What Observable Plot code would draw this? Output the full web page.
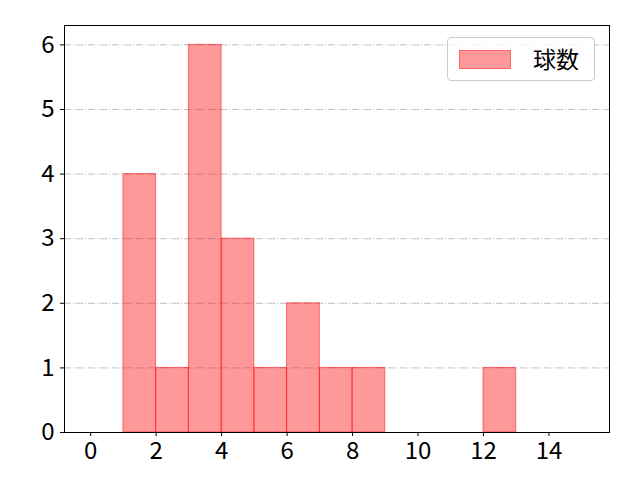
<!DOCTYPE html>
<html><head><meta charset="utf-8">
<script src="https://cdn.jsdelivr.net/npm/d3@7"></script>
<script src="https://cdn.jsdelivr.net/npm/@observablehq/plot@0.6"></script>
<style>
body{margin:0;background:#fff;}
#c{position:relative;width:640px;height:480px;}
#c svg text{font-family:"Noto Sans CJK JP",sans-serif !important;font-size:24px !important;}
.legend{position:absolute;left:447px;top:37px;width:148px;height:44px;border:1px solid #ccc;border-radius:4px;background:rgba(255,255,255,0.8);font-family:"Noto Sans CJK JP",sans-serif;font-size:23px;box-sizing:border-box;}
.legend .sw{position:absolute;left:11px;top:12px;width:52px;height:19px;background:#ff9999;border:1px solid #ff6666;box-sizing:border-box;}
.legend .lb{position:absolute;left:85px;top:5px;line-height:30px;}
</style></head>
<body><div id="c"></div>
<script>
const binStart = [1, 2, 3, 4, 5, 6, 7, 8, 12];
const binEnd   = [2, 3, 4, 5, 6, 7, 8, 9, 13];
const counts   = [4, 1, 6, 3, 1, 2, 1, 1, 1];
const xTicks = [0, 2, 4, 6, 8, 10, 12, 14];
const yTicks = [0, 1, 2, 3, 4, 5, 6];
const seriesName = "球数";

const data = binStart.map((s, i) => ({x1: s, x2: binEnd[i], y: counts[i]}));

const chart = Plot.plot({
  width: 640, height: 480,
  marginLeft: 64, marginRight: 31, marginTop: 25, marginBottom: 48,
  style: {fontFamily: "'Noto Sans CJK JP', sans-serif", fontSize: "24px", color: "#000", background: "#fff"},
  x: {domain: [-0.8, 15.85], label: null},
  y: {domain: [0, 6.3], label: null},
  marks: [
    Plot.gridY(yTicks, {stroke: "#b0b0b0", strokeOpacity: 1, strokeDasharray: "7,2,1,2", strokeWidth: 0.8}),
    Plot.rectY(data, {x1: "x1", x2: "x2", y: "y", fill: "#ff0000", fillOpacity: 0.4, stroke: "#ff0000", strokeOpacity: 0.5, strokeWidth: 1, inset: 0}),
    Plot.axisX({ticks: xTicks, tickFormat: "d", tickSize: 4, tickPadding: 5, fontSize: 24}),
    Plot.axisY({ticks: yTicks, tickFormat: "d", tickSize: 4, tickPadding: 6, fontSize: 24}),
    Plot.frame({stroke: "#000", strokeWidth: 1})
  ]
});
document.getElementById("c").appendChild(chart);
const lg = document.createElement("div");
lg.className = "legend";
lg.innerHTML = '<div class="sw"></div><div class="lb"></div>';
lg.querySelector(".lb").textContent = seriesName;
document.getElementById("c").appendChild(lg);
</script></body></html>
